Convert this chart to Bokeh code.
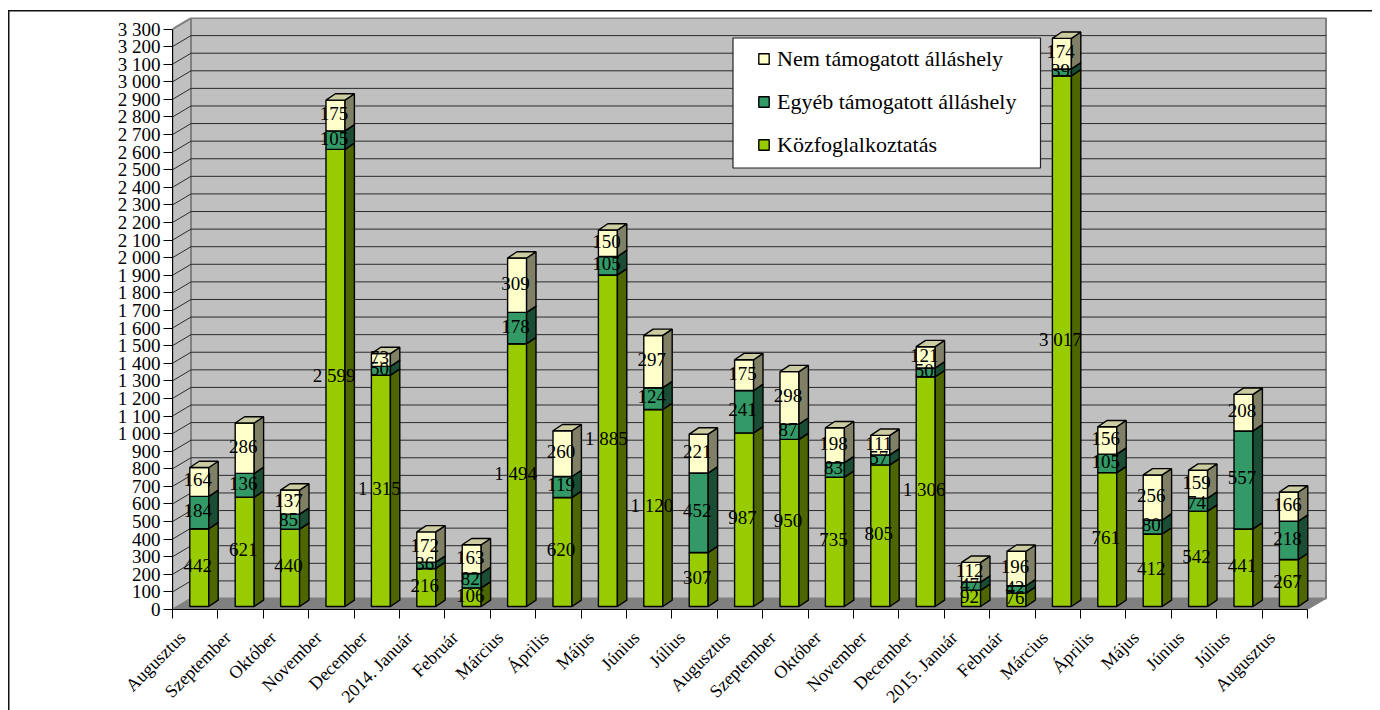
import numpy as np
from bokeh.embed import file_html
from bokeh.resources import INLINE
from bokeh.plotting import figure
from bokeh.models import (FixedTicker, Range1d, BoxAnnotation, Label, Legend, LegendItem)
from bokeh.core.properties import value

months = ["Augusztus", "Szeptember", "Október", "November", "December", "2014. Január", "Február",
          "Március", "Április", "Május", "Június", "Július", "Augusztus", "Szeptember", "Október",
          "November", "December", "2015. Január", "Február", "Március", "Április", "Május", "Június",
          "Július", "Augusztus"]
kozfog = [442, 621, 440, 2599, 1315, 216, 106, 1494, 620, 1885, 1120, 307, 987, 950, 735, 805, 1306,
          92, 76, 3017, 761, 412, 542, 441, 267]
egyeb = [184, 136, 85, 105, 50, 36, 82, 178, 119, 105, 124, 452, 241, 87, 83, 57, 50, 47, 42, 39,
         105, 80, 74, 557, 218]
nem = [164, 286, 137, 175, 73, 172, 163, 309, 260, 150, 297, 221, 175, 298, 198, 111, 121, 112, 196,
       174, 156, 256, 159, 208, 166]
series_names = ["Közfoglalkoztatás", "Egyéb támogatott álláshely", "Nem támogatott álláshely"]
y_ticks = list(range(0, 3301, 100))

FONT = "Liberation Serif"
PXX = 45.4      # px per category
PXY = 0.1759    # px per unit
L0, B0 = 172, 609   # page px of x=0, y=0
W, H = 1372, 702
FW, FH = 1155, 592
BW = 19 / PXX
BL = 17.3 / PXX
BDX, BDY = 9.4 / PXX, 6.3 / PXY
BASE = 3 / PXY
DX, DY = 18.5 / PXX, 11 / PXY
TOP = 3300


def X(px):
    return (px - L0) / PXX


def Y(py):
    return (B0 - py) / PXY


def fmt(v):
    return f"{v:,}".replace(",", " ")


p = figure(width=W, height=H, output_backend="svg", toolbar_location=None,
           x_range=Range1d(0, FW / PXX), y_range=Range1d(0, FH / PXY),
           min_border_left=L0, min_border_right=W - L0 - FW, min_border_top=17,
           min_border_bottom=H - 17 - FH, outline_line_color=None, background_fill_color="white",
           border_fill_color=None, frame_width=FW, frame_height=FH)
p.grid.visible = False
p.styles = {"background": "linear-gradient(#111,#111) 7.5px 9.5px/100% 1.5px no-repeat,"
                          "linear-gradient(#111,#111) 7.5px 9.5px/1.5px 100% no-repeat"}

# walls and floor
n = len(months)
p.patch([0, DX, DX, 0], [0, DY, TOP + DY, TOP], fill_color="#C0C0C0", line_color="#808080", line_width=2)
p.patch([DX, n + DX, n + DX, DX], [DY, DY, TOP + DY, TOP + DY], fill_color="#C0C0C0", line_color="#808080", line_width=2)
p.patch([0, n, n + DX, DX], [0, 0, DY, DY], fill_color="#808080", line_color="#808080", line_width=1)

# gridlines
gt = y_ticks[1:-1]
p.multi_line([[0, DX, n + DX] for _ in gt], [[t, t + DY, t + DY] for t in gt],
             line_color="#2a2a2a", line_width=1)

# bars
colors = [("#99CC00", "#4D6600", "#B8D94D"), ("#339966", "#1A4D33", "#5FA67F"), ("#FFFFCC", "#808066", "#CCCCA3")]
idx = np.arange(n)
left = idx + BL
right = left + BW
bottom = np.zeros(n) + BASE
fronts = []
txt_x, txt_y, txt = [], [], []
for vals, (cf, cs, ct) in zip([kozfog, egyeb, nem], colors):
    vals = np.array(vals, dtype=float)
    top = bottom + vals
    r = p.quad(left=left, right=right, bottom=bottom, top=top, fill_color=cf, line_color="black", line_width=1.4)
    fronts.append(r)
    p.patches([[a, a + BDX, a + BDX, a] for a in right],
              [[b, b + BDY, t + BDY, t] for b, t in zip(bottom, top)],
              fill_color=cs, line_color="black", line_width=1.4)
    p.patches([[a, b, b + BDX, a + BDX] for a, b in zip(left, right)],
              [[t, t, t + BDY, t + BDY] for t in top],
              fill_color=ct, line_color="black", line_width=1.4)
    txt_x += list((left + right) / 2 - 1.5 / PXX)
    txt_y += list((top + bottom) / 2 + 2 / PXY)
    txt += [fmt(int(v)) for v in vals]
    bottom = top

p.text(txt_x, txt_y, text=txt, text_font=value(FONT), text_font_size="19px", text_align="center",
       text_baseline="middle", text_color="black")

# axes
ya = p.yaxis[0]
ya.ticker = FixedTicker(ticks=y_ticks)
ya.bounds = (0, TOP)
ya.major_label_overrides = {t: fmt(t) for t in y_ticks}
ya.major_label_text_font = FONT
ya.major_label_text_font_size = "19px"
ya.major_label_text_color = "black"
ya.major_tick_out = 9
ya.major_tick_in = 0
ya.minor_tick_line_color = None
ya.major_label_standoff = 3
ya.axis_line_color = "black"
ya.major_tick_line_color = "black"

xa = p.xaxis[0]
centers = [i + 0.22 for i in range(n)]
xa.ticker = FixedTicker(ticks=centers, minor_ticks=list(range(n + 1)))
xa.bounds = (0, n)
xa.major_label_overrides = {c: m for c, m in zip(centers, months)}
xa.major_label_orientation = np.pi / 4
xa.major_label_text_font = FONT
xa.major_label_text_font_size = "18px"
xa.major_label_text_color = "black"
xa.major_tick_line_color = None
xa.major_tick_out = 0
xa.major_tick_in = 0
xa.minor_tick_out = 9
xa.minor_tick_in = 0
xa.minor_tick_line_color = "black"
xa.axis_line_color = "black"
xa.major_label_standoff = 16

p.add_layout(Label(x=93 - L0, x_units="screen", y=Y(292), y_units="data", text="Fő", text_font=FONT,
                   text_font_size="16px", text_font_style="bold", text_color="black",
                   text_align="center", text_baseline="middle"))

# legend box
p.add_layout(BoxAnnotation(left=X(732.5), right=X(1040), top=Y(37.5), bottom=Y(167.5), fill_color="white",
                           fill_alpha=1, line_color="#222222", line_alpha=1, line_width=1.2, level="annotation"))
legend = Legend(items=[LegendItem(label=series_names[2], renderers=[fronts[2]]),
                       LegendItem(label=series_names[1], renderers=[fronts[1]]),
                       LegendItem(label=series_names[0], renderers=[fronts[0]])],
                location=(757 - L0, B0 - 157.5), orientation="vertical",
                background_fill_alpha=0, border_line_color=None, padding=0, margin=0,
                glyph_width=13, glyph_height=13, label_standoff=7, spacing=17,
                label_text_font=FONT, label_text_font_size="22px", label_text_color="black",
                label_height=21)
p.add_layout(legend)

open("out.html", "w").write(file_html(p, INLINE))
